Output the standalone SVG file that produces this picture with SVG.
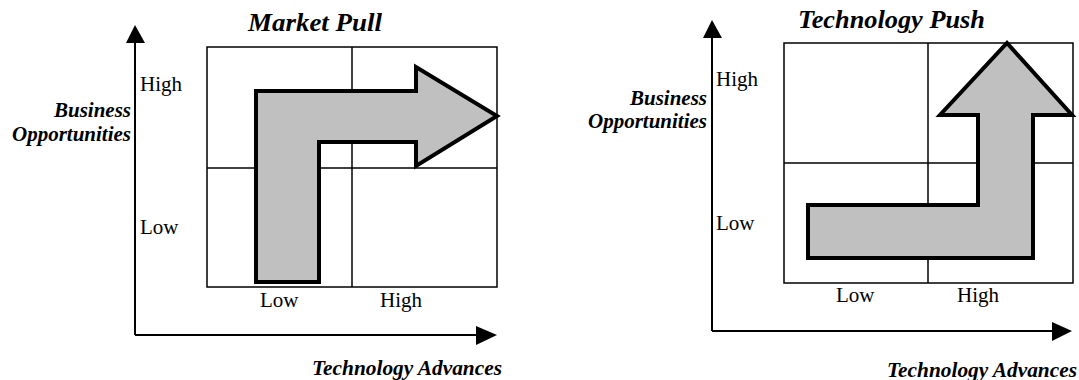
<svg xmlns="http://www.w3.org/2000/svg" width="1079" height="380" viewBox="0 0 1079 380">
<style>
.grid{fill:none;stroke:#000;stroke-width:1.5}
.axis{fill:none;stroke:#000;stroke-width:2}
.head{fill:#000;stroke:none}
.big{fill:#c0c0c0;stroke:#000;stroke-width:4;stroke-linejoin:miter}
.lbl{font-family:"Liberation Serif","Times New Roman",serif;font-size:21px;fill:#000}
.bi{font-family:"Liberation Serif","Times New Roman",serif;font-size:21px;font-weight:bold;font-style:italic;fill:#000}
.title{font-family:"Liberation Serif","Times New Roman",serif;font-size:26px;font-weight:bold;font-style:italic;fill:#000}
</style>
<rect width="1079" height="380" fill="#fff"/>
<g id="connectors">
<g id="left-axes">
<line class="axis" x1="135" y1="40" x2="135" y2="335"/>
<line class="axis" x1="135" y1="335" x2="480" y2="335"/>
<polygon class="head" points="135,25 126,43 145,43"/>
<polygon class="head" points="497,335 476,326 476,345"/>
</g>
<g id="right-axes">
<line class="axis" x1="712" y1="35" x2="712" y2="331"/>
<line class="axis" x1="712" y1="331" x2="1055" y2="331"/>
<polygon class="head" points="712,20 703,38 722,38"/>
<polygon class="head" points="1072,331 1052,322 1052,341"/>
</g>
</g>
<g id="market-pull">
<rect class="grid" x="207" y="47" width="290" height="240"/>
<line class="grid" x1="352" y1="47" x2="352" y2="287"/>
<line class="grid" x1="207" y1="168" x2="497" y2="168"/>
<polygon class="big" points="256,282 256,91 416,91 416,67 497,116 416,166 416,142 319,142 319,282"/>
<text class="title" x="248" y="31" textLength="134" lengthAdjust="spacingAndGlyphs">Market Pull</text>
<text class="lbl" x="140" y="91">High</text>
<text class="lbl" x="140" y="234">Low</text>
<text class="lbl" x="260" y="307">Low</text>
<text class="lbl" x="380" y="307">High</text>
<text class="bi" x="131" y="117" text-anchor="end">Business</text>
<text class="bi" x="131" y="141" text-anchor="end">Opportunities</text>
<text class="bi" x="312" y="375" textLength="190" lengthAdjust="spacingAndGlyphs">Technology Advances</text>
</g>
<g id="technology-push">
<rect class="grid" x="784" y="43" width="289" height="240"/>
<line class="grid" x1="928" y1="43" x2="928" y2="283"/>
<line class="grid" x1="784" y1="163" x2="1073" y2="163"/>
<polygon class="big" points="808,258 808,205 978,205 978,115 940,115 1007,43 1072,115 1033,115 1033,258"/>
<text class="title" x="798" y="28" textLength="187" lengthAdjust="spacingAndGlyphs">Technology Push</text>
<text class="lbl" x="716" y="86">High</text>
<text class="lbl" x="716" y="230">Low</text>
<text class="lbl" x="836" y="302">Low</text>
<text class="lbl" x="957" y="302">High</text>
<text class="bi" x="707" y="105" text-anchor="end">Business</text>
<text class="bi" x="707" y="128" text-anchor="end">Opportunities</text>
<text class="bi" x="887" y="377" textLength="190" lengthAdjust="spacingAndGlyphs">Technology Advances</text>
</g>
</svg>
